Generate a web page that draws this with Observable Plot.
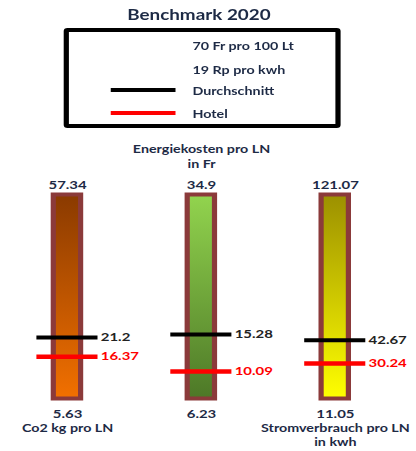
<!DOCTYPE html>
<html>
<head>
<meta charset="utf-8">
<script src="https://cdn.jsdelivr.net/npm/d3@7"></script>
<script src="https://cdn.jsdelivr.net/npm/@observablehq/plot@0.6"></script>
<style>
  html, body { margin: 0; padding: 0; background: #fff; overflow: hidden; }
  #wrap { width: 320px; transform: scaleX(1.3); transform-origin: 0 0; font-family: Lato, "Open Sans", sans-serif; color: #1d2a45; }
  #header { position: relative; height: 135px; }
  #title { position: absolute; left: 0; width: 306px; top: 6px; text-align: center; font-weight: bold; font-size: 14.5px; line-height: 18px; }
  #legend { position: absolute; left: 48.5px; top: 28px; width: 213.5px; height: 100px; border: 4px solid #000; border-radius: 3px; box-sizing: border-box; }
  .lrow { position: absolute; left: 95.5px; height: 16px; line-height: 16px; font-size: 11px; font-weight: bold; white-space: nowrap; }
  .lline { position: absolute; left: 32px; width: 50px; height: 4px; }
  #chart svg { display: block; }
</style>
</head>
<body>
<div id="wrap">
  <div id="header">
    <div id="title">Benchmark 2020</div>
    <div id="legend"></div>
  </div>
  <div id="chart"></div>
</div>
<script>
// ---- data ----
const categories = ["Co2 kg pro LN", "Energiekosten pro LN\nin Fr", "Stromverbrauch pro LN\nin kwh"];
const minVals = [5.63, 6.23, 11.05];
const maxVals = [57.34, 34.9, 121.07];
const avgVals = [21.2, 15.28, 42.67];
const hotelVals = [16.37, 10.09, 30.24];
const legendInfo = ["70 Fr pro 100 Lt", "19 Rp pro kwh"];
const seriesNames = ["Durchschnitt", "Hotel"];
const chartTitle = "Benchmark 2020";

// ---- styles ----
const gradTop = ["#8a3a00", "#92d44e", "#9c9000"];
const gradBottom = ["#f27000", "#4d7827", "#ffff00"];
const seriesColors = ["#000000", "#ff0000"];
const barBorder = "#8b3a3a";
const textColor = "#1d2a45";

document.getElementById("title").textContent = chartTitle;

// legend (HTML)
const legend = document.getElementById("legend");
const rowTops = [5.7, 29.7, 50.7, 73.7];
const lineTops = [55.5, 79];
legendInfo.forEach((t, i) => {
  const r = document.createElement("div");
  r.className = "lrow"; r.style.top = rowTops[i] + "px"; r.textContent = t;
  legend.appendChild(r);
});
seriesNames.forEach((t, i) => {
  const r = document.createElement("div");
  r.className = "lrow"; r.style.top = rowTops[i + legendInfo.length] + "px"; r.textContent = t;
  legend.appendChild(r);
  const l = document.createElement("div");
  l.className = "lline"; l.style.top = lineTops[i] + "px"; l.style.background = seriesColors[i];
  legend.appendChild(l);
});

// ---- chart ----
const rows = categories.map((c, i) => ({
  cat: c, min: minVals[i], max: maxVals[i], avg: avgVals[i], hotel: hotelVals[i],
  grad: `url(#grad${i})`, idx: i
}));
const norm = (d, v) => (v - d.min) / (d.max - d.min);

function gradientDefs() {
  const defs = d3.create("svg:defs");
  gradTop.forEach((top, i) => {
    const g = defs.append("linearGradient").attr("id", "grad" + i)
      .attr("x1", 0).attr("y1", 0).attr("x2", 0).attr("y2", 1);
    g.append("stop").attr("offset", "0%").attr("stop-color", top);
    g.append("stop").attr("offset", "100%").attr("stop-color", gradBottom[i]);
  });
  return defs.node();
}

const chart = Plot.plot({
  width: 320,
  height: 316,
  marginTop: 0, marginRight: 0, marginBottom: 0, marginLeft: 0,
  style: { fontFamily: "Lato, 'Open Sans', sans-serif", fontSize: "11px", fontWeight: "bold", color: textColor, background: "#fff" },
  x: { type: "band", domain: categories, range: [-0.7, 310.7], paddingInner: 0.7929, paddingOuter: 0.39645, align: 0.5, axis: null },
  y: { domain: [0, 1], range: [263.5, 59.5], axis: null },
  color: { type: "identity" },
  marks: [
    gradientDefs,
    Plot.barY(rows, { x: "cat", y1: () => 0, y2: () => 1, fill: "grad", stroke: barBorder, strokeWidth: 4 }),
    Plot.tickY(rows, { x: "cat", y: d => norm(d, d.avg), stroke: seriesColors[0], strokeWidth: 4, insetLeft: -13, insetRight: -13 }),
    Plot.tickY(rows, { x: "cat", y: d => norm(d, d.hotel), stroke: seriesColors[1], strokeWidth: 4.5, insetLeft: -13, insetRight: -13 }),
    Plot.text(rows, { x: "cat", y: d => norm(d, d.avg), text: d => String(d.avg), textAnchor: "start", dx: 25.5, fill: "#222", fontSize: 11.5, fontWeight: "bold" }),
    Plot.text(rows, { x: "cat", y: d => norm(d, d.hotel), text: d => String(d.hotel), textAnchor: "start", dx: 25.5, fill: seriesColors[1], fontSize: 11.5, fontWeight: "bold" }),
    Plot.text(rows, { x: "cat", y: () => 1, text: d => String(d.max), lineAnchor: "bottom", dy: -6, fill: textColor, fontSize: 11.5, fontWeight: "bold" }),
    Plot.text(rows, { x: "cat", y: () => 0, text: d => String(d.min), lineAnchor: "top", dy: 11, fill: textColor, fontSize: 11.5, fontWeight: "bold" }),
    Plot.text(rows.filter(d => d.idx !== 1), { x: "cat", y: () => 0, text: "cat", lineAnchor: "top", dy: 22.5, fill: textColor, fontSize: 11, fontWeight: "bold", lineHeight: 1.3 }),
    Plot.text(rows.filter(d => d.idx === 1), { x: "cat", y: () => 1, text: "cat", lineAnchor: "bottom", dy: -27.5, fill: textColor, fontSize: 11, fontWeight: "bold", lineHeight: 1.3 })
  ]
});
document.getElementById("chart").appendChild(chart);
</script>
</body>
</html>
